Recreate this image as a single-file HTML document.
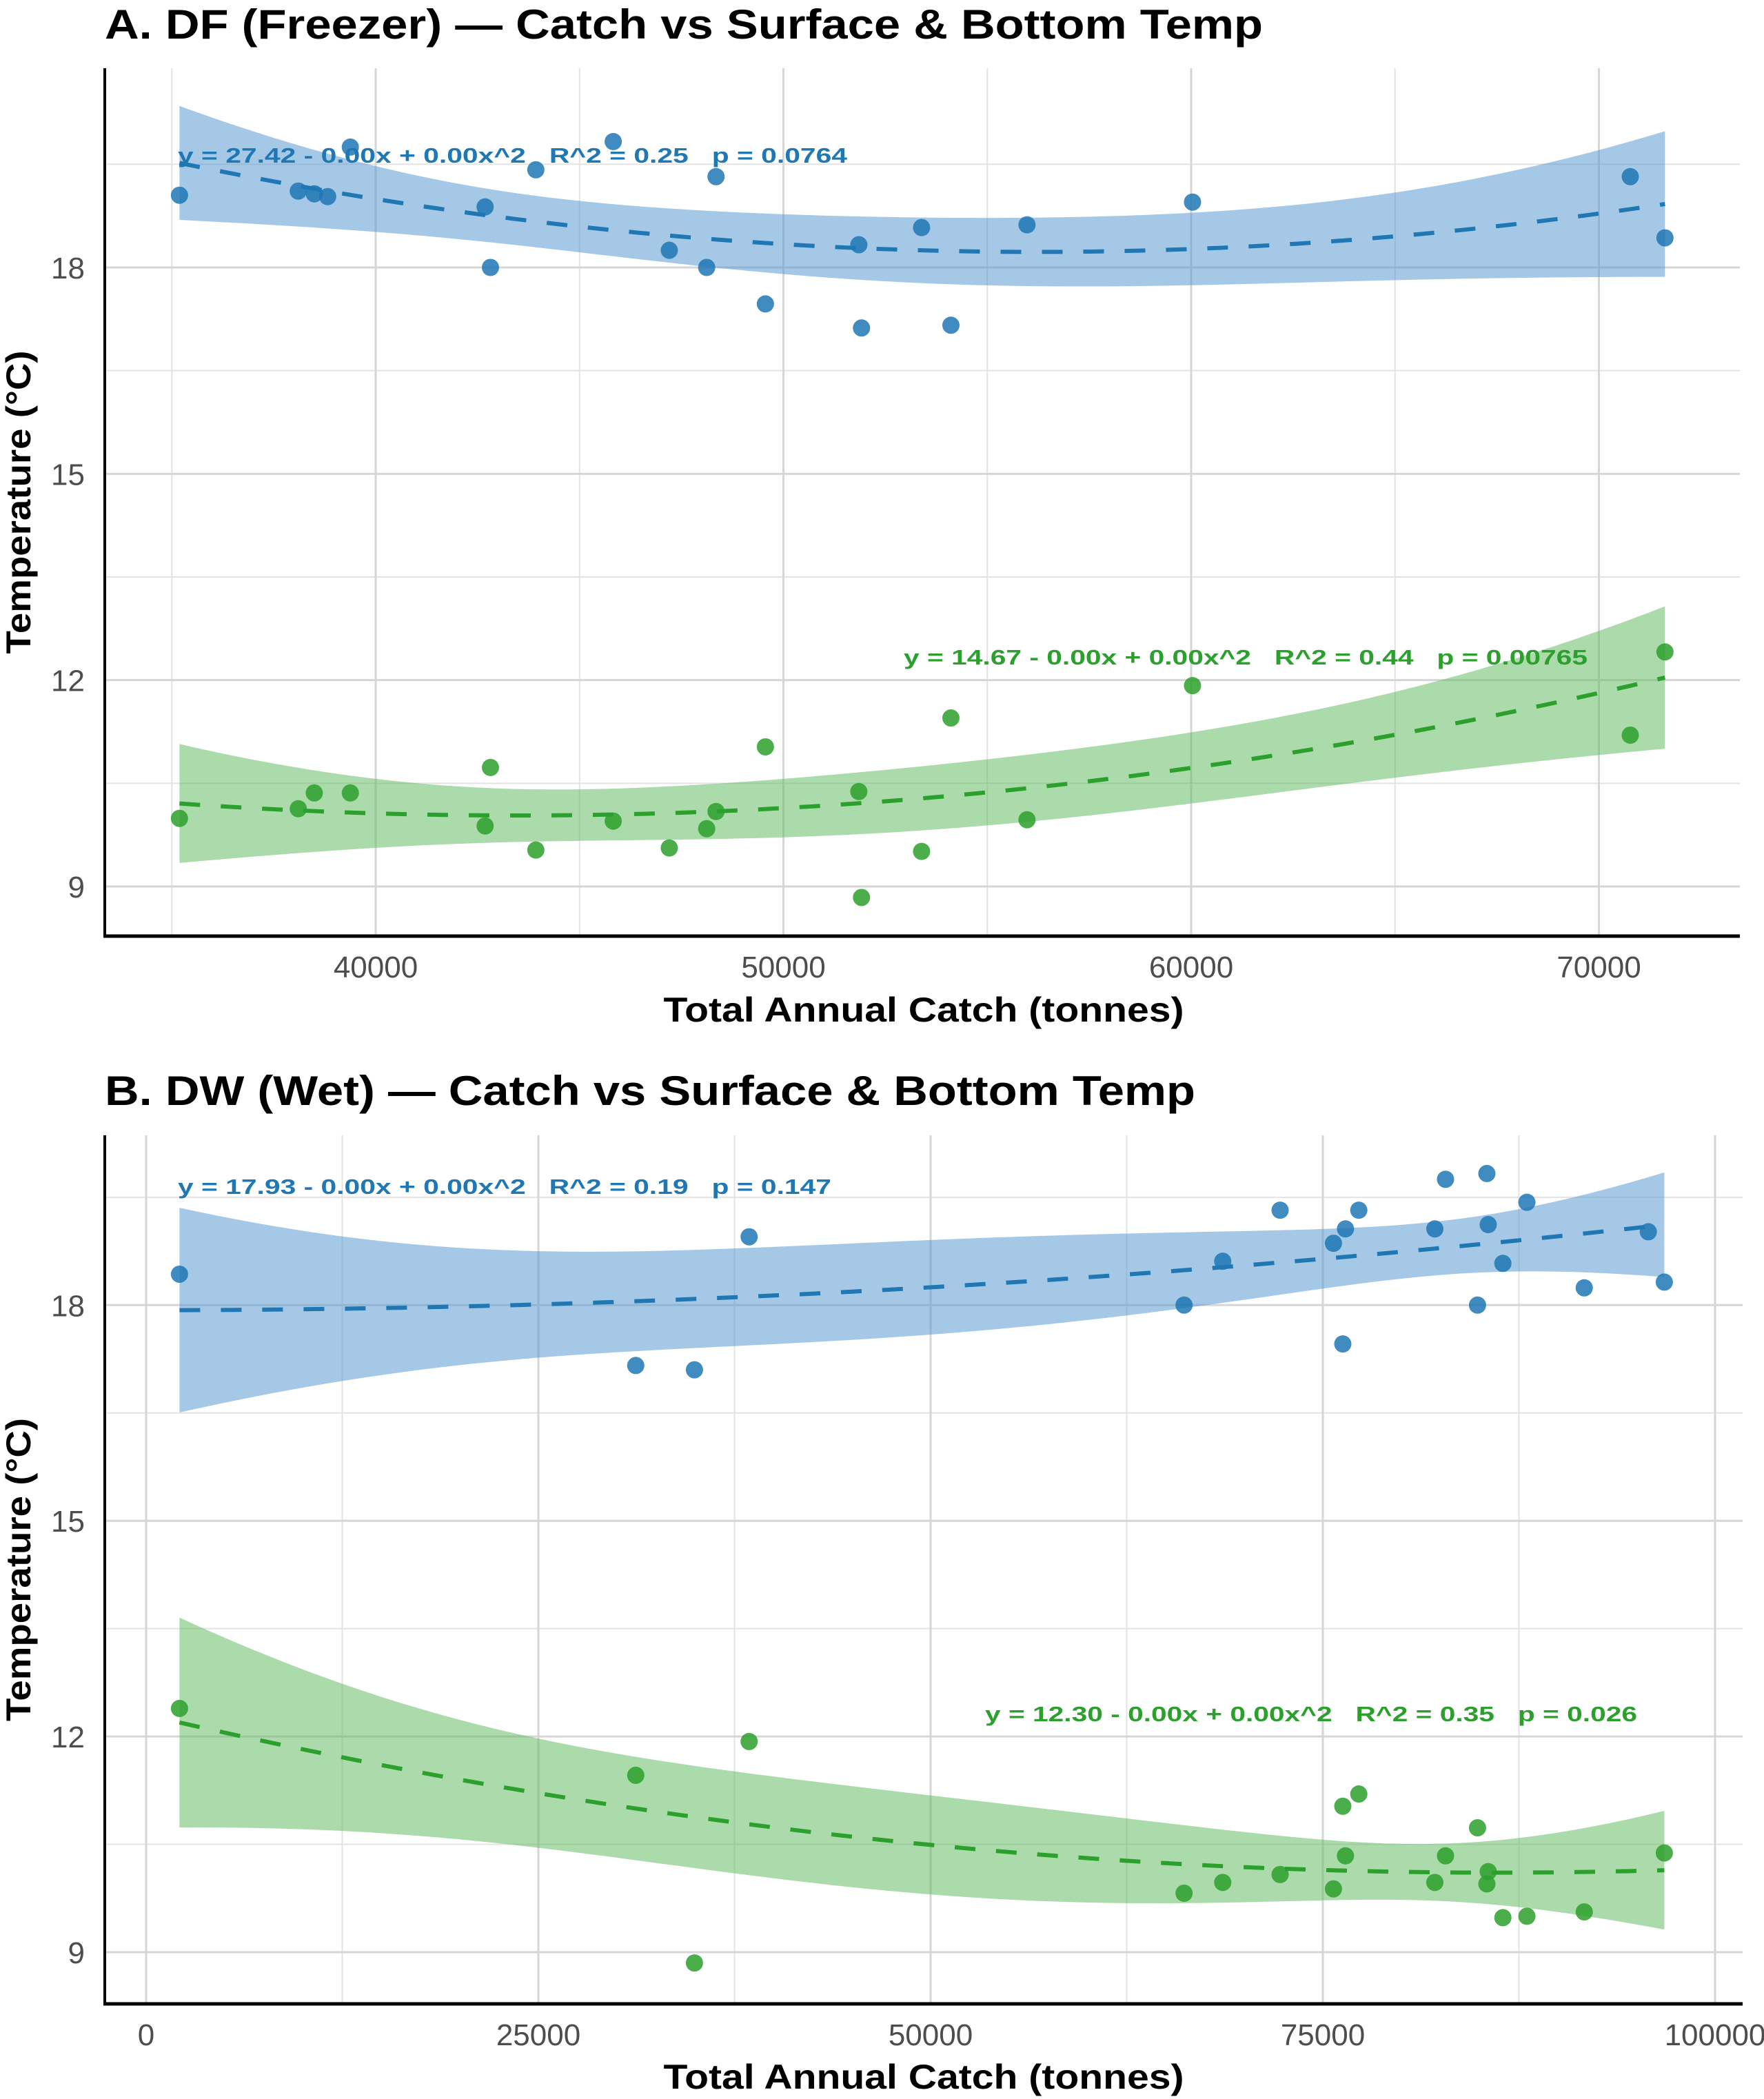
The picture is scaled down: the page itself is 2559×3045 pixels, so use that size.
<!DOCTYPE html>
<html><head><meta charset="utf-8">
<style>
html,body{margin:0;padding:0;background:#fff;}
svg{display:block;font-family:"Liberation Sans",Arial,sans-serif;}
.ann{white-space:pre;}
</style></head>
<body>
<svg id="chart" width="2559" height="3045" viewBox="0 0 2559 3045" xmlns="http://www.w3.org/2000/svg">
<rect width="2559" height="3045" fill="#fff"/>
<g id="panelA"></g>
<g id="panelB"></g>
</svg>
<script>
// Panel A data (DF Freezer)
const aSurfX = [35188,38102,38494,38822,39378,42684,42815,43928,45826,47201,48118,48347,49558,51849,51915,53388,54108,55974,60033,70769,71620];
const aSurfY = [19.05,19.11,19.07,19.03,19.75,18.88,18.0,19.42,19.83,18.25,18.0,19.32,17.47,18.33,17.12,18.58,17.16,18.62,18.95,19.32,18.43];
const aBotX = [35188,38102,38494,39378,42684,42815,43928,45826,47201,48118,48347,49558,51849,51915,53388,54108,55974,60033,70769,71620];
const aBotY = [9.99,10.13,10.36,10.36,9.88,10.73,9.53,9.95,9.56,9.84,10.09,11.03,10.38,8.84,9.51,11.45,9.97,11.92,11.20,12.41];
const aXTicks = [40000,50000,60000,70000];
const aXMinor = [35000,45000,55000,65000];
const aYTicks = [9,12,15,18];
const aYMinor = [10.5,13.5,16.5,19.5];
// Panel B data (DW Wet)
const bSurfX = [2126,31207,34948,38434,66155,68620,72277,75678,76273,76443,77293,82139,82820,84860,85456,85541,86476,88007,91663,95745,96765];
const bSurfY = [18.43,17.16,17.10,18.95,18.0,18.61,19.32,18.86,17.46,19.06,19.32,19.06,19.75,18.0,19.83,19.12,18.58,19.43,18.24,19.02,18.32];
const bBotX = [2126,31207,34948,38434,66155,68620,72277,75678,76273,76443,77293,82139,82820,84860,85456,85541,86476,88007,91663,96765];
const bBotY = [12.39,11.46,8.85,11.93,9.82,9.97,10.08,9.88,11.03,10.34,11.20,9.97,10.34,10.73,9.95,10.12,9.48,9.50,9.56,10.38];
const bXTicks = [0,25000,50000,75000,100000];
const bXMinor = [12500,37500,62500,87500];
const bYTicks = [9,12,15,18];
const bYMinor = [10.5,13.5,16.5,19.5];

const NS="http://www.w3.org/2000/svg";
function mk(parent,tag,attrs,text){const e=document.createElementNS(NS,tag);for(const k in attrs)e.setAttribute(k,attrs[k]);if(text!==undefined)e.textContent=text;parent.appendChild(e);return e;}

function fitQuad(xs,ys){
  const n=xs.length;const X=xs.map(x=>[1,x/10000,(x/10000)**2]);
  const A=[[0,0,0],[0,0,0],[0,0,0]],b=[0,0,0];
  for(let i=0;i<n;i++)for(let j=0;j<3;j++){b[j]+=X[i][j]*ys[i];for(let k=0;k<3;k++)A[j][k]+=X[i][j]*X[i][k];}
  const inv=inv3(A);const beta=[0,1,2].map(j=>inv[j][0]*b[0]+inv[j][1]*b[1]+inv[j][2]*b[2]);
  let sse=0;for(let i=0;i<n;i++){const p=beta[0]+beta[1]*X[i][1]+beta[2]*X[i][2];sse+=(ys[i]-p)**2;}
  const s=Math.sqrt(sse/(n-3));
  return {beta,inv,s,t:2.1};
}
function inv3(m){const[a,b,c]=m[0],[d,e,f]=m[1],[g,h,i]=m[2];
  const A=e*i-f*h,B=-(d*i-f*g),C=d*h-e*g;const det=a*A+b*B+c*C;
  return [[A/det,-(b*i-c*h)/det,(b*f-c*e)/det],[B/det,(a*i-c*g)/det,-(a*f-c*d)/det],[C/det,-(a*h-b*g)/det,(a*e-b*d)/det]];}
function predict(f,x){const v=[1,x/10000,(x/10000)**2];const y=f.beta[0]+f.beta[1]*v[1]+f.beta[2]*v[2];
  let q=0;for(let j=0;j<3;j++)for(let k=0;k<3;k++)q+=v[j]*f.inv[j][k]*v[k];const se=f.s*Math.sqrt(q);return [y,y-f.t*se,y+f.t*se];}

function drawPanel(cfg){
  const g=document.getElementById(cfg.id);
  const sx=x=>cfg.x0px+(x-cfg.x0v)*cfg.xs;
  const sy=y=>cfg.y0px-(y-cfg.y0v)*cfg.ys;
  const tt=mk(g,'text',{x:152,y:cfg.titleY,'font-size':60,'font-weight':'bold',fill:'#000',textLength:cfg.titleW,lengthAdjust:'spacingAndGlyphs'},cfg.title);
  
  
  const grid=mk(g,'g',{});
  
  
  cfg.xMinor.forEach(v=>mk(grid,'line',{x1:sx(v),x2:sx(v),y1:cfg.top,y2:cfg.bottom,stroke:'#e3e3e3','stroke-width':2}));
  cfg.yMinor.forEach(v=>mk(grid,'line',{x1:cfg.left,x2:cfg.right,y1:sy(v),y2:sy(v),stroke:'#e3e3e3','stroke-width':2}));
  cfg.xTicks.forEach(v=>mk(grid,'line',{x1:sx(v),x2:sx(v),y1:cfg.top,y2:cfg.bottom,stroke:'#d6d6d6','stroke-width':3}));
  cfg.yTicks.forEach(v=>mk(grid,'line',{x1:cfg.left,x2:cfg.right,y1:sy(v),y2:sy(v),stroke:'#d6d6d6','stroke-width':3}));
  cfg.series.forEach(s=>{
    const f=fitQuad(s.xs,s.ys);
    const mn=Math.min(...s.xs),mx=Math.max(...s.xs);const N=80;
    const up=[],lo=[],mid=[];
    for(let i=0;i<=N;i++){const x=mn+(mx-mn)*i/N;const p=predict(f,x);mid.push(sx(x)+','+sy(p[0]));lo.push(sx(x)+','+sy(p[1]));up.push(sx(x)+','+sy(p[2]));}
    const band=mk(g,'polygon',{points:up.concat(lo.reverse()).join(' '),fill:s.band,'fill-opacity':0.55});
    
    
    s.xs.forEach((x,i)=>{const c=mk(g,'circle',{cx:sx(x),cy:sy(s.ys[i]),r:12.5,fill:s.color,'fill-opacity':0.85});
      
      });
    const ln=mk(g,'polyline',{points:mid.join(' '),fill:'none',stroke:s.color,'stroke-width':6,'stroke-dasharray':'30 30'});
    
    
    const an=mk(g,'text',{class:'ann',x:s.ax,y:s.ay,'font-size':31,'font-weight':'bold',fill:s.color,textLength:s.aw,lengthAdjust:'spacingAndGlyphs'},s.label);
    
    
  });
  mk(g,'line',{x1:cfg.left,x2:cfg.left,y1:cfg.top,y2:cfg.bottom+2,stroke:'#000','stroke-width':4});
  mk(g,'line',{x1:cfg.left-2,x2:cfg.right,y1:cfg.bottom,y2:cfg.bottom,stroke:'#000','stroke-width':5});
  cfg.xTicks.forEach(v=>{const t=mk(g,'text',{x:sx(v),y:cfg.bottom+60,'font-size':44,fill:'#4d4d4d','text-anchor':'middle'},String(v));
    
    });
  cfg.yTicks.forEach(v=>{const t=mk(g,'text',{x:123,y:sy(v)+16,'font-size':44,fill:'#4d4d4d','text-anchor':'end'},String(v));
    
    });
  const xt=mk(g,'text',{x:1340,y:cfg.xTitleY,'font-size':50,'font-weight':'bold',fill:'#000','text-anchor':'middle',textLength:755,lengthAdjust:'spacingAndGlyphs'},'Total Annual Catch (tonnes)');
  
  
  const cy=(cfg.top+cfg.bottom)/2;
  const yt=mk(g,'text',{x:0,y:0,'font-size':50,'font-weight':'bold',fill:'#000','text-anchor':'middle',transform:`translate(44,${cy}) rotate(-90)`,textLength:440,lengthAdjust:'spacingAndGlyphs'},'Temperature (°C)');
  
  
}

drawPanel({id:'panelA',title:'A. DF (Freezer) — Catch vs Surface & Bottom Temp',titleY:56,titleW:1680,
  left:152,right:2524,top:99,bottom:1358,x0px:545,x0v:40000,xs:591.5/10000,y0px:1286,y0v:9,ys:99.78,
  xTicks:aXTicks,xMinor:aXMinor,yTicks:aYTicks,yMinor:aYMinor,xTitleY:1482,
  series:[
   {name:'surface-temp',xs:aSurfX,ys:aSurfY,color:'#1f77b4',band:'#5a9acf',label:'y = 27.42 - 0.00x + 0.00x^2   R^2 = 0.25   p = 0.0764',ax:258,ay:236,aw:971},
   {name:'bottom-temp',xs:aBotX,ys:aBotY,color:'#2ca02c',band:'#66bb66',label:'y = 14.67 - 0.00x + 0.00x^2   R^2 = 0.44   p = 0.00765',ax:1311,ay:964,aw:992}]});
drawPanel({id:'panelB',title:'B. DW (Wet) — Catch vs Surface & Bottom Temp',titleY:1603,titleW:1582,
  left:152,right:2528,top:1647,bottom:2907,x0px:212,x0v:0,xs:569/25000,y0px:2832,y0v:9,ys:104.3,
  xTicks:bXTicks,xMinor:bXMinor,yTicks:bYTicks,yMinor:bYMinor,xTitleY:3030,
  series:[
   {name:'surface-temp',xs:bSurfX,ys:bSurfY,color:'#1f77b4',band:'#5a9acf',label:'y = 17.93 - 0.00x + 0.00x^2   R^2 = 0.19   p = 0.147',ax:258,ay:1732,aw:948},
   {name:'bottom-temp',xs:bBotX,ys:bBotY,color:'#2ca02c',band:'#66bb66',label:'y = 12.30 - 0.00x + 0.00x^2   R^2 = 0.35   p = 0.026',ax:1429,ay:2497,aw:946}]});
</script>
</body></html>
